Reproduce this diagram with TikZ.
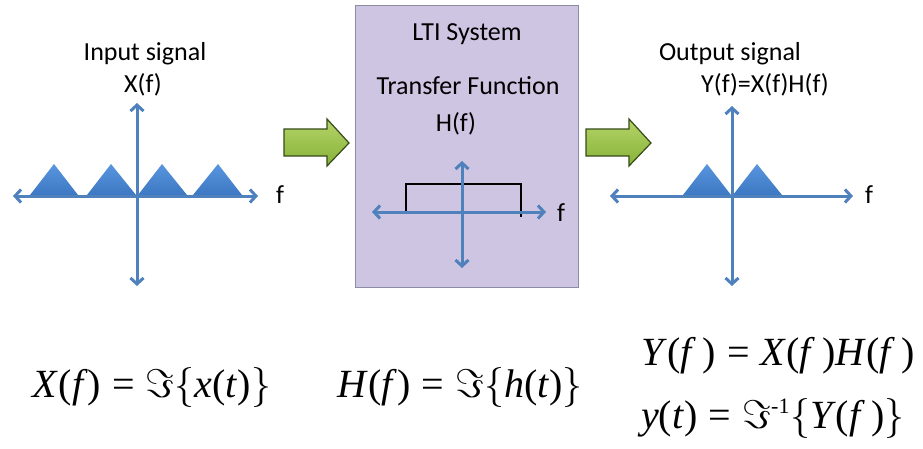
\RequirePackage{fix-cm}
\documentclass[tikz,border=0pt]{standalone}
\usepackage{fontspec}
\setmainfont{Carlito}
\newfontfamily\tms{Liberation Serif}
\usetikzlibrary{arrows.meta}
\definecolor{axisblue}{RGB}{79,129,189}
\definecolor{tritop}{RGB}{90,150,222}
\definecolor{tribot}{RGB}{60,120,195}
\definecolor{boxfill}{RGB}{206,197,226}
\definecolor{boxline}{RGB}{140,140,165}
\definecolor{grtop}{RGB}{180,212,105}
\definecolor{grbot}{RGB}{135,178,55}
\definecolor{grline}{RGB}{55,75,25}
\newcommand\ti[1]{\mbox{\tms\textit{#1}}}
\newcommand\tu[1]{\mbox{\tms #1}}
\newcommand\supm{\mbox{\tms\fontsize{22}{24}\selectfont -1}}
\tikzset{
  lbl/.style={font=\fontsize{26}{30}\selectfont, anchor=base, inner sep=0pt},
  fml/.style={font=\fontsize{40}{46}\selectfont, inner sep=0pt},
  axisline/.style={draw=axisblue, line width=3pt, {Straight Barb[length=6pt,width=13pt]}-{Straight Barb[length=6pt,width=13pt]}},
  tri/.style={top color=tritop, bottom color=tribot, draw=none},
  pulse/.style={draw=black, line width=2.2pt},
  bigarrow/.style={top color=grtop, bottom color=grbot, draw=grline, line width=1.2pt, line join=miter},
  ltibox/.style={draw=boxline, fill=boxfill, line width=1.2pt, inner sep=0pt, anchor=north west, minimum width=223pt, minimum height=282pt}
}
\begin{document}
\begin{tikzpicture}[x=1pt,y=-1pt]
\useasboundingbox (0,0) rectangle (923,448);
% LTI box
\node[ltibox] (lti) at (355,5) {};
% green arrows
\path[bigarrow] (284,129) -- (327,129) -- (327,119) -- (349,143) -- (327,166) -- (327,156) -- (284,156) -- cycle;
\path[bigarrow] (586,129) -- (629,129) -- (629,119) -- (651,143) -- (629,166) -- (629,156) -- (586,156) -- cycle;
% input plot
\path[tri] (30,195) -- (54,164) -- (78,195) -- cycle;
\path[tri] (87,195) -- (111,164) -- (136,195) -- cycle;
\path[tri] (138,195) -- (162,164) -- (187,195) -- cycle;
\path[tri] (193,195) -- (218,164) -- (242,195) -- cycle;
\coordinate (inL) at (13,196);
\coordinate (inR) at (258,196);
\coordinate (inT) at (137,103);
\coordinate (inB) at (137,286);
\draw[axisline] (inL) -- (inR);
\draw[axisline] (inB) -- (inT);
\node[lbl] (inlbl) at (145,60) {Input signal};
\node[lbl] (xf) at (143,92) {X(f)};
\node[lbl] (fin) at (280,203) {f};
% LTI contents
\node[lbl] (ltilbl) at (467,40) {LTI System};
\node[lbl] (tflbl) at (468,94) {Transfer Function};
\node[lbl] (hf) at (456,131) {H(f)};
\draw[pulse] (406,212) -- (406,184) -- (521,184) -- (521,217);
\coordinate (hL) at (372,212);
\coordinate (hR) at (546,212);
\coordinate (hT) at (462,161);
\coordinate (hB) at (462,268);
\draw[axisline] (hL) -- (hR);
\draw[axisline] (hB) -- (hT);
\node[lbl] (fh) at (561,221) {f};
% output plot
\path[tri] (683,195) -- (707,164) -- (731,195) -- cycle;
\path[tri] (733,195) -- (757,164) -- (782,195) -- cycle;
\coordinate (oL) at (610,196);
\coordinate (oR) at (853,196);
\coordinate (oT) at (732,106);
\coordinate (oB) at (732,286);
\draw[axisline] (oL) -- (oR);
\draw[axisline] (oB) -- (oT);
\node[lbl] (outlbl) at (730,60) {Output signal};
\node[lbl] (yf) at (765,92) {Y(f)=X(f)H(f)};
\node[lbl] (fout) at (869,203) {f};
% formulas
\node[fml, anchor=base] (fx) at (152,397) {$\ti{X}\tu{(}\ti{f}\tu{)}\mathrel{\tu{=}}\Im\biggl\{\ti{x}\tu{(}\ti{t}\tu{)}\biggr\}$};
\node[fml, anchor=base] (fh2) at (460,397) {$\ti{H}\tu{(}\ti{f}\tu{)}\mathrel{\tu{=}}\Im\biggl\{\ti{h}\tu{(}\ti{t}\tu{)}\biggr\}$};
\node[fml, anchor=base west] (fy1) at (641,365) {$\ti{Y}\tu{(}\ti{f}\,\tu{)}\mathrel{\tu{=}}\ti{X}\tu{(}\ti{f}\,\tu{)}\ti{H}\tu{(}\ti{f}\,\tu{)}$};
\node[fml, anchor=base west] (fy2) at (641,428) {$\ti{y}\tu{(}\ti{t}\tu{)}\mathrel{\tu{=}}\Im^{\supm}\biggl\{\ti{Y}\tu{(}\ti{f}\,\tu{)}\biggr\}$};
\end{tikzpicture}
\end{document}
